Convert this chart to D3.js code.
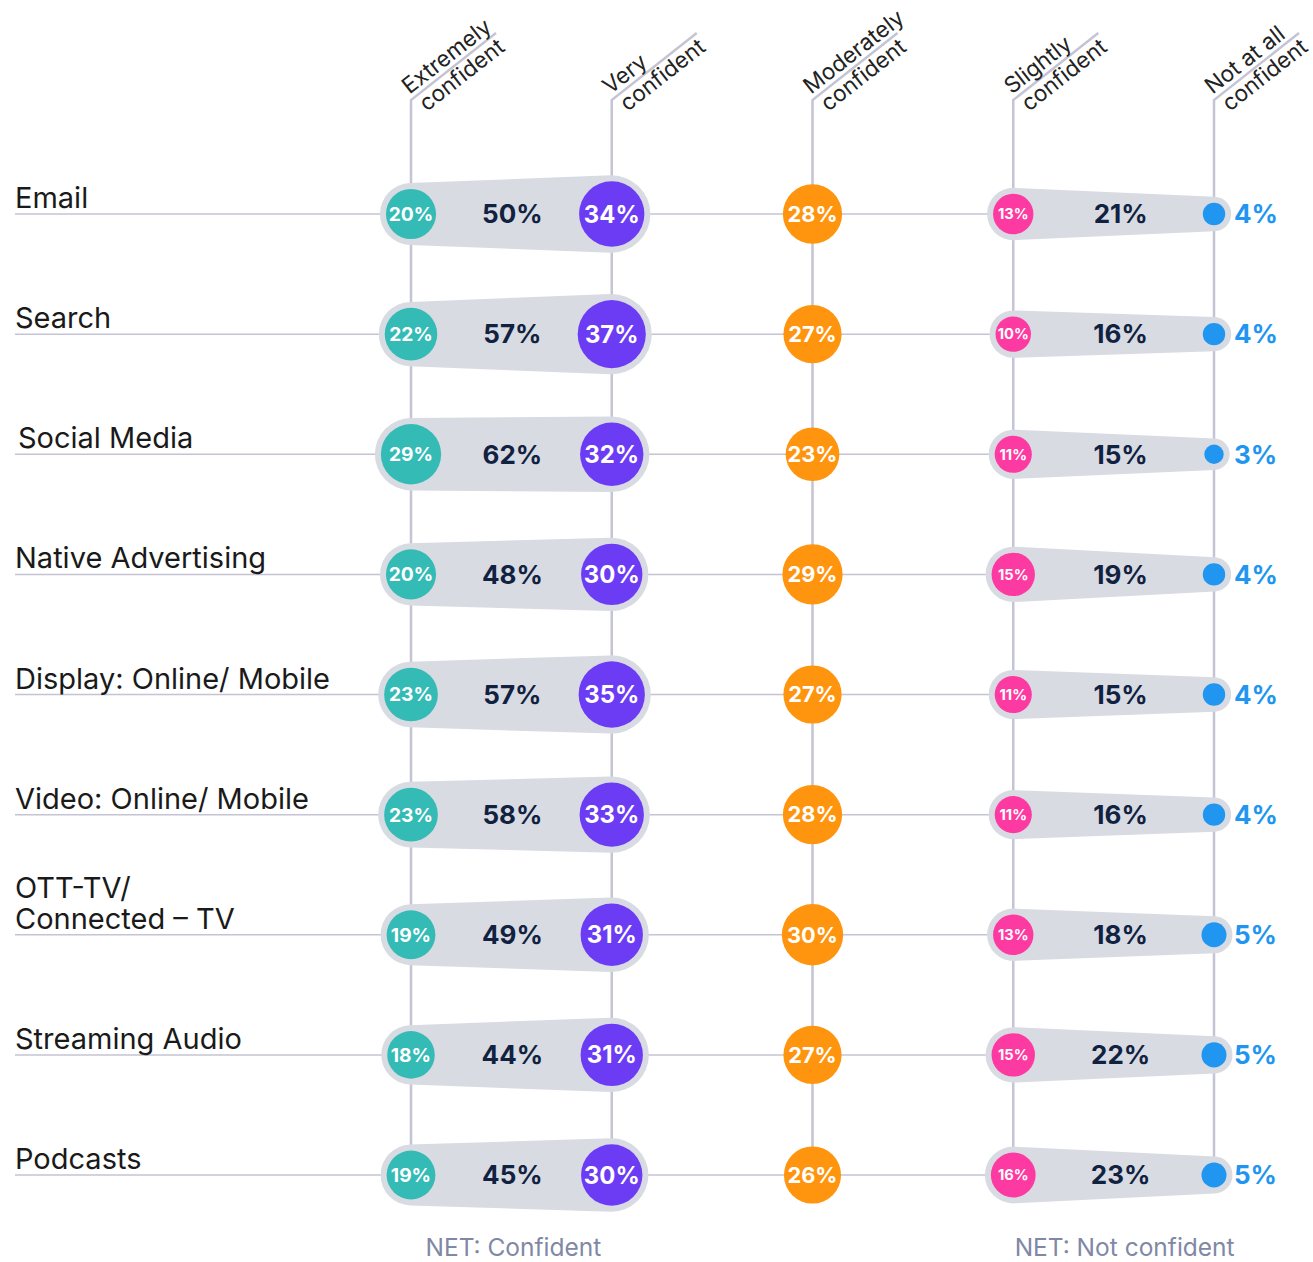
<!DOCTYPE html>
<html>
<head>
<meta charset="utf-8">
<script src="https://cdn.jsdelivr.net/npm/d3@7"></script>
<style>
body{margin:0;background:#fff;}
text{font-family:Inter,"Noto Sans",sans-serif;}
</style>
</head>
<body>
<svg width="1313" height="1262"></svg>
<script>
var categories=["Email","Search","Social Media","Native Advertising","Display: Online/ Mobile","Video: Online/ Mobile","OTT-TV/\nConnected \u2013 TV","Streaming Audio","Podcasts"];
var columns=["Extremely\nconfident","Very\nconfident","Moderately\nconfident","Slightly\nconfident","Not at all\nconfident"];
var extremely=[20,22,29,20,23,23,19,18,19];
var very=[34,37,32,30,35,33,31,31,30];
var moderately=[28,27,23,29,27,28,30,27,26];
var slightly=[13,10,11,15,11,11,13,15,16];
var notAtAll=[4,4,3,4,4,4,5,5,5];
var netConfident=[50,57,62,48,57,58,49,44,45];
var netNotConfident=[21,16,15,19,15,16,18,22,23];
var colors=["#34bbb6","#6c3cf5","#ff950e","#fd3aa2","#2196f0"];

var series=[extremely,very,moderately,slightly,notAtAll];

var svg=d3.select("svg");
var x=d3.scalePoint().domain(d3.range(5)).range([411,1214]);
var y=d3.scalePoint().domain(d3.range(categories.length)).range([214,1175]);
var r=d3.scaleSqrt().domain([0,100]).range([0,56]);
var lineCol="#c4c4d4";

// horizontal row lines
svg.selectAll(".hline").data(categories).enter().append("line")
  .attr("x1",15).attr("x2",x(4))
  .attr("y1",function(d,i){return y(i);}).attr("y2",function(d,i){return y(i);})
  .attr("stroke",lineCol).attr("stroke-width",1.5);

// vertical column lines + header diagonals
var hdr=svg.selectAll(".col").data(columns).enter().append("g");
hdr.append("path")
  .attr("d",function(d,i){return "M"+x(i)+","+y(categories.length-1)+"L"+x(i)+",100 l85,-67";})
  .attr("fill","none").attr("stroke",lineCol).attr("stroke-width",2.5);
var ht=hdr.append("g").attr("transform",function(d,i){return "translate("+x(i)+",100) rotate(-38)";});
ht.append("text").attr("x",2).attr("y",-5).attr("font-size",22.5).attr("fill","#222")
  .text(function(d){return d.split("\n")[0];});
ht.append("text").attr("x",5).attr("y",19).attr("font-size",22.5).attr("fill","#222")
  .text(function(d){return d.split("\n")[1];});

// category labels (one text per line)
categories.forEach(function(d,i){
  var lines=d.split("\n");
  lines.forEach(function(s,k){
    svg.append("text").attr("x",i==2?18:15)
      .attr("y",y(i)-6-(lines.length-1-k)*31)
      .attr("font-size",29).attr("fill","#1a1a1a").text(s);
  });
});

// halo pill between two circles
function pill(x1,r1,x2,r2,cy){
  var d=x2-x1, th=Math.acos((r1-r2)/d), c=Math.cos(th), s=Math.sin(th);
  var t1=[x1+r1*c,cy-r1*s], b1=[x1+r1*c,cy+r1*s];
  var t2=[x2+r2*c,cy-r2*s], b2=[x2+r2*c,cy+r2*s];
  var large2=th>Math.PI/2?1:0, large1=th<Math.PI/2?1:0;
  return "M"+t1+"L"+t2+"A"+r2+","+r2+" 0 "+large2+" 1 "+b2+"L"+b1+"A"+r1+","+r1+" 0 "+large1+" 1 "+t1+"Z";
}
var pad=6;
var rows=svg.selectAll(".row").data(categories).enter().append("g");
rows.append("path").attr("fill","#d9dbe3")
  .attr("d",function(d,i){return pill(x(0),r(extremely[i])+pad,x(1),r(very[i])+pad,y(i));});
rows.append("path").attr("fill","#d9dbe3")
  .attr("d",function(d,i){return pill(x(3),r(slightly[i])+pad,x(4),r(notAtAll[i])+pad,y(i));});

// circles
series.forEach(function(vals,j){
  svg.selectAll(".c"+j).data(vals).enter().append("circle")
    .attr("cx",x(j)).attr("cy",function(d,i){return y(i);})
    .attr("r",function(d){return r(d);}).attr("fill",colors[j]);
  if(j<4){
    var fs=0.78*r(d3.mean(vals))-1;
    svg.selectAll(".t"+j).data(vals).enter().append("text")
      .attr("x",x(j)).attr("y",function(d,i){return y(i);})
      .attr("dy","0.36em").attr("text-anchor","middle")
      .attr("font-size",fs)
      .attr("font-weight",700).attr("fill","#fff")
      .text(function(d){return d+"%";});
  }
});

// not at all labels
svg.selectAll(".na").data(notAtAll).enter().append("text")
  .attr("x",x(4)+20).attr("y",function(d,i){return y(i);}).attr("dy","0.36em")
  .attr("font-size",26).attr("font-weight",700).attr("fill",colors[4])
  .text(function(d){return d+"%";});

// net labels
function netText(vals,cx){
  svg.selectAll(null).data(vals).enter().append("text")
    .attr("x",cx).attr("y",function(d,i){return y(i);}).attr("dy","0.36em")
    .attr("text-anchor","middle").attr("font-size",26).attr("font-weight",700).attr("fill","#10223f")
    .text(function(d){return d+"%";});
}
netText(netConfident,(x(0)+x(1))/2+1);
netText(netNotConfident,(x(3)+x(4))/2+7);

svg.append("text").attr("x",(x(0)+x(1))/2+2).attr("y",1256).attr("text-anchor","middle")
  .attr("font-size",24.5).attr("fill","#8088a6").text("NET: Confident");
svg.append("text").attr("x",(x(3)+x(4))/2+11).attr("y",1256).attr("text-anchor","middle")
  .attr("font-size",24.5).attr("fill","#8088a6").text("NET: Not confident");
</script>
</body>
</html>
